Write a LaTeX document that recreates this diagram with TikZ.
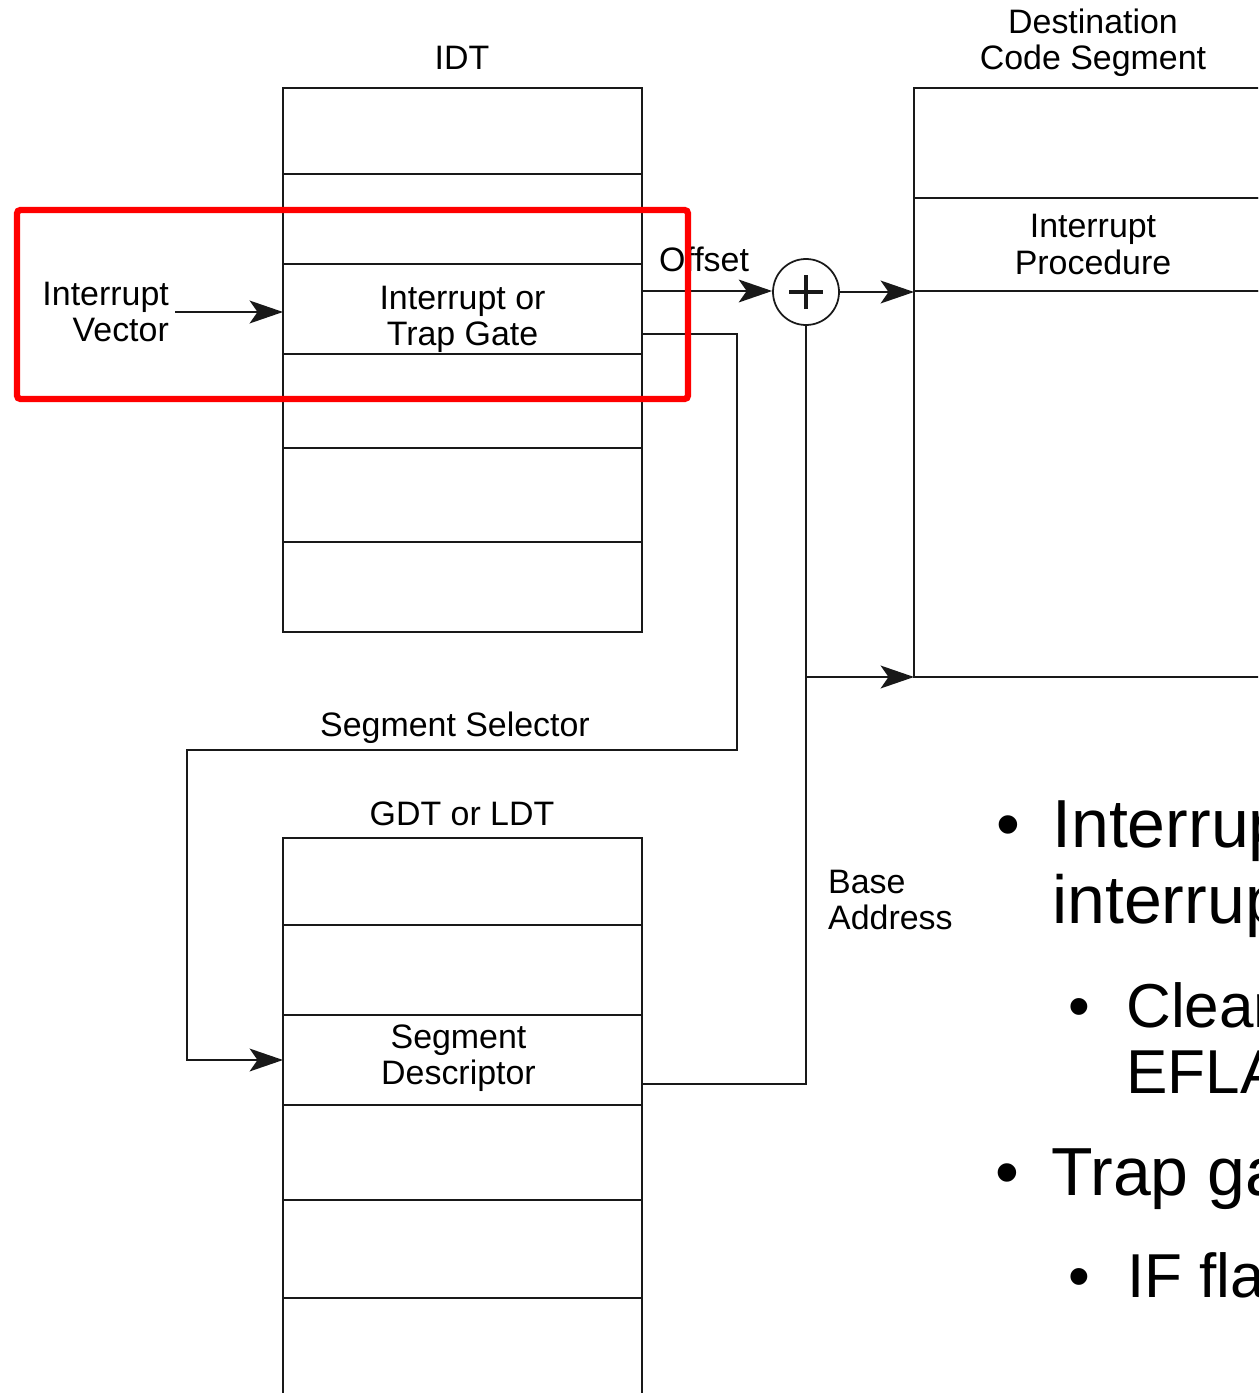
\documentclass[tikz,border=0pt]{standalone}
\usepackage{fontspec}
\setmainfont{Liberation Sans}
\usepackage{tikz}
\usetikzlibrary{arrows.meta,positioning}
\definecolor{traitnoir}{RGB}{25,25,25}
\definecolor{rougecadre}{RGB}{255,0,0}

\begin{document}
\begin{tikzpicture}[
    case/.style={rectangle, draw=traitnoir, line width=1pt, outer sep=0pt, inner sep=0pt,
                 minimum width=7.18cm, align=center, font=\fontsize{19.3}{20.5}\selectfont},
    titre/.style={align=center, font=\fontsize{19.3}{20.5}\selectfont},
    fleche/.style={-{Stealth[length=19pt, width=13pt, inset=4.5pt]}, line width=1pt, draw=traitnoir},
    lien/.style={line width=1pt, draw=traitnoir},
    puce/.style={anchor=base west, inner sep=0pt, font=\fontsize{38.7}{43.2}\selectfont},
    souspuce/.style={anchor=base west, inner sep=0pt, font=\fontsize{35.3}{37.6}\selectfont}
]
    \useasboundingbox (0,0) rectangle (25.16,-27.86);
    \clip (0,0) rectangle (25.16,-27.86);

    % Table IDT
    \node[titre] (idtlbl) at (9.24,-1.16) {IDT};
    \node[case, minimum height=1.72cm, anchor=north west] (idt1) at (5.66,-1.76) {};
    \node[case, minimum height=1.80cm, below=0pt of idt1] (idt2) {};
    \node[case, minimum height=1.80cm, below=0pt of idt2] (gate) {};
    \node[case, minimum height=1.88cm, below=0pt of gate] (idt4) {};
    \node[case, minimum height=1.88cm, below=0pt of idt4] (idt5) {};
    \node[case, minimum height=1.80cm, below=0pt of idt5] (idt6) {};
    \node[titre] (gatetxt) at ([yshift=-0.2cm]gate.center) {Interrupt or\\Trap Gate};

    % Segment de code destination
    \node[titre] (destlbl) at (21.86,-0.86) {Destination\\Code Segment};
    \node[case, minimum width=7.16cm, minimum height=2.20cm, anchor=north west] (dest1) at (18.28,-1.76) {};
    \node[case, minimum width=7.16cm, minimum height=1.86cm, below=0pt of dest1] (proc) {Interrupt\\Procedure};
    \node[case, minimum width=7.16cm, minimum height=7.72cm, below=0pt of proc] (corps) {};

    % Table GDT / LDT
    \node[titre] (gdtlbl) at (9.24,-16.28) {GDT or LDT};
    \node[case, minimum height=1.74cm, anchor=north west] (gdt1) at (5.66,-16.76) {};
    \node[case, minimum height=1.80cm, below=0pt of gdt1] (gdt2) {};
    \node[case, minimum height=1.80cm, below=0pt of gdt2] (desc) {};
    \node[case, minimum height=1.90cm, below=0pt of desc] (gdt4) {};
    \node[case, minimum height=1.96cm, below=0pt of gdt4] (gdt5) {};
    \node[case, minimum height=2.20cm, below=0pt of gdt5] (gdt6) {};
    \node[titre] (desctxt) at ([xshift=-0.08cm, yshift=0.04cm]desc.center) {Segment\\Descriptor};

    % Vecteur et additionneur
    \node[titre, align=right, anchor=east] (vecteur) at (3.50,-6.24) {Interrupt\\Vector};
    \node[circle, draw=traitnoir, line width=1pt, minimum size=1.32cm, inner sep=0pt] (somme) at (16.12,-5.84) {};
    \draw[line width=2.6pt, traitnoir] ([xshift=-0.34cm]somme.center) -- ([xshift=0.34cm]somme.center)
        ([yshift=-0.34cm]somme.center) -- ([yshift=0.34cm]somme.center);

    % Etiquettes
    \node[titre] (offlbl) at (14.08,-5.18) {Offset};
    \node[titre] (sellbl) at (9.10,-14.56) {Segment Selector};
    \node[titre, anchor=west, align=left] (baselbl) at (16.44,-18.00) {Base\\Address};

    % Flèches
    \coordinate (selcoin) at (14.74,-15.00);
    \coordinate (selretour) at (3.74,-15.00);
    \draw[fleche] (vecteur.east) -- (vecteur.east -| gate.west);
    \draw[fleche] ([yshift=0.36cm]gate.east) -- ([yshift=0.36cm]gate.east -| somme.west);
    \draw[fleche] (somme.east) -- (somme.east -| proc.south west);
    \draw[fleche] ([yshift=-0.50cm]gate.east) -| (selcoin) -- (selretour) |- (desc.west);
    \draw[lien] ([yshift=-0.48cm]desc.east) -| (somme.south);
    \draw[fleche] (somme.south |- corps.south west) -- (corps.south west);

    % Puces
    \node[puce, anchor=base] (b1) at (20.16,-16.94) {\textbullet};
    \node[puce] (point1) at (21.04,-16.94) {Interrupt};
    \node[puce] (point1b) at (21.04,-18.46) {interrupts};
    \node[souspuce, anchor=base] (b2) at (21.58,-20.54) {\textbullet};
    \node[souspuce] (point2) at (22.52,-20.54) {Clear};
    \node[souspuce] (point2b) at (22.52,-21.86) {EFLAGS};
    \node[puce, anchor=base] (b3) at (20.14,-23.90) {\textbullet};
    \node[puce] (point3) at (21.02,-23.90) {Trap gate};
    \node[souspuce, anchor=base] (b4) at (21.58,-25.94) {\textbullet};
    \node[souspuce] (point4) at (22.54,-25.94) {IF flag};

    % Cadre rouge
    \draw[rougecadre, line width=3.6pt, rounded corners=2pt] (0.34,-4.20) rectangle (13.76,-7.98);
\end{tikzpicture}
\end{document}
